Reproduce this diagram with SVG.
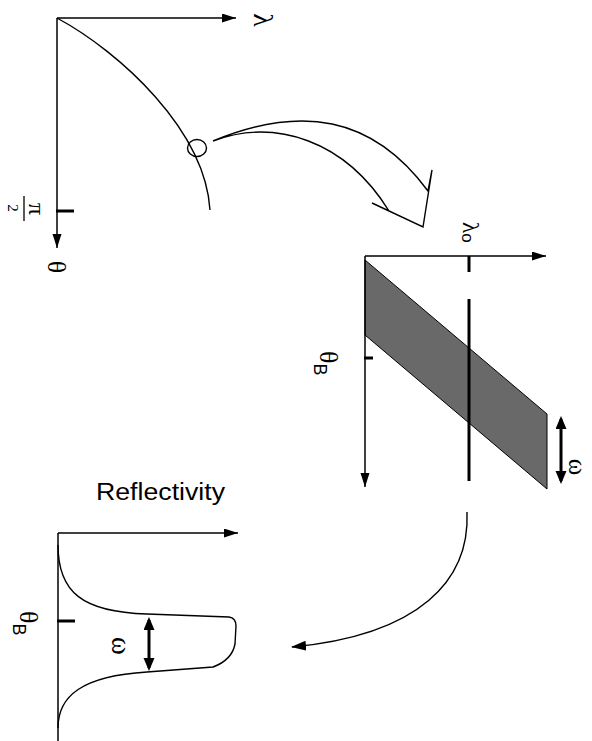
<svg xmlns="http://www.w3.org/2000/svg" width="592" height="741" viewBox="0 0 592 741">
<defs>
<style>
.ax{fill:none;stroke:#000;stroke-width:1.5}
.thin{fill:none;stroke:#000;stroke-width:1.4}
.tk{fill:none;stroke:#000;stroke-width:3}
.serif{font-family:"Liberation Serif","DejaVu Serif",serif;fill:#000}
.sans{font-family:"Liberation Sans",Arial,sans-serif;fill:#000}
</style>
<marker id="ah" markerUnits="userSpaceOnUse" markerWidth="16" markerHeight="10" refX="14" refY="4.5" orient="auto"><path d="M0,0 L14,4.5 L0,9 z" fill="#000"/></marker>
<marker id="dh" markerUnits="userSpaceOnUse" markerWidth="14" markerHeight="12" refX="10" refY="5.5" orient="auto-start-reverse"><path d="M0,0 L13,5.5 L0,11 z" fill="#000"/></marker>
<marker id="ch" markerUnits="userSpaceOnUse" markerWidth="16" markerHeight="11" refX="14" refY="5" orient="auto"><path d="M0,0 L15,5 L0,10 z" fill="#000"/></marker>
</defs>
<rect width="592" height="741" fill="#fff"/>

<g id="panel1">
<line class="ax" x1="57" y1="18" x2="236" y2="18" marker-end="url(#ah)"/>
<line class="ax" x1="57" y1="18" x2="57" y2="248" marker-end="url(#ah)"/>
<line class="tk" x1="56" y1="211" x2="74" y2="211"/>
<path class="thin" d="M57,18 C120,52 205,130 210,210"/>
<ellipse class="thin" cx="197" cy="148" rx="9.5" ry="8.5"/>
<text class="serif" font-size="28" text-anchor="middle" transform="translate(254,20) rotate(90)">λ</text>
<text class="serif" font-size="26" text-anchor="middle" transform="translate(48,267) rotate(90)">θ</text>
<text class="serif" font-size="24" text-anchor="middle" transform="translate(29,209) rotate(90)">π</text>
<line x1="24" y1="196" x2="24" y2="221" stroke="#000" stroke-width="1.3"/>
<text class="serif" font-size="15" text-anchor="middle" transform="translate(8,208) rotate(90)">2</text>
</g>

<g id="panel2">
<path d="M365,260 L547,414 L547,489 L365,335 Z" fill="#696969" stroke="#000" stroke-width="1"/>
<line class="ax" x1="365" y1="256" x2="546" y2="256" marker-end="url(#ah)"/>
<line class="ax" x1="365" y1="256" x2="365" y2="487" marker-end="url(#ah)"/>
<line class="tk" x1="469" y1="256" x2="469" y2="272"/>
<line class="tk" x1="469" y1="299" x2="469" y2="481"/>
<line class="tk" x1="364" y1="358" x2="373" y2="358"/>
<line class="tk" x1="561" y1="419" x2="561" y2="481" marker-start="url(#dh)" marker-end="url(#dh)"/>
<text class="serif" font-size="23" transform="translate(463,222) rotate(90)">λ<tspan class="sans" font-size="17" dy="1">o</tspan></text>
<text class="serif" font-size="26" transform="translate(320,351) rotate(90)">θ<tspan class="sans" font-size="18" dy="6">B</tspan></text>
<text class="serif" font-size="25" text-anchor="middle" transform="translate(569,467) rotate(90)">ω</text>
</g>

<g id="panel3">
<line class="ax" x1="58" y1="533" x2="238" y2="533" marker-end="url(#ah)"/>
<line class="ax" x1="58" y1="533" x2="58" y2="741"/>
<line class="tk" x1="57" y1="621" x2="75" y2="621"/>
<path class="thin" d="M58,545 C58,592 82,612 147,614 L229,617 Q236,618 236,626 L235,644 Q232,660 213,667 L147,672 C82,676 58,696 58,728"/>
<line class="tk" x1="149" y1="620" x2="149" y2="668" marker-start="url(#dh)" marker-end="url(#dh)"/>
<text class="sans" font-size="23" x="96" y="500" textLength="129" lengthAdjust="spacingAndGlyphs">Reflectivity</text>
<text class="serif" font-size="26" transform="translate(20,611) rotate(90)">θ<tspan class="sans" font-size="18" dy="7">B</tspan></text>
<text class="serif" font-size="27" text-anchor="middle" transform="translate(112,646) rotate(90)">ω</text>
</g>

<g id="connectors">
<path class="thin" d="M213,141 C300,105 372,115 428,191 L432,170 L423,227 L372,203 M389,211 C345,140 275,118 213,141"/>
<path class="thin" d="M467,512 C470,580 420,635 292,647" marker-end="url(#ch)"/>
</g>
</svg>
